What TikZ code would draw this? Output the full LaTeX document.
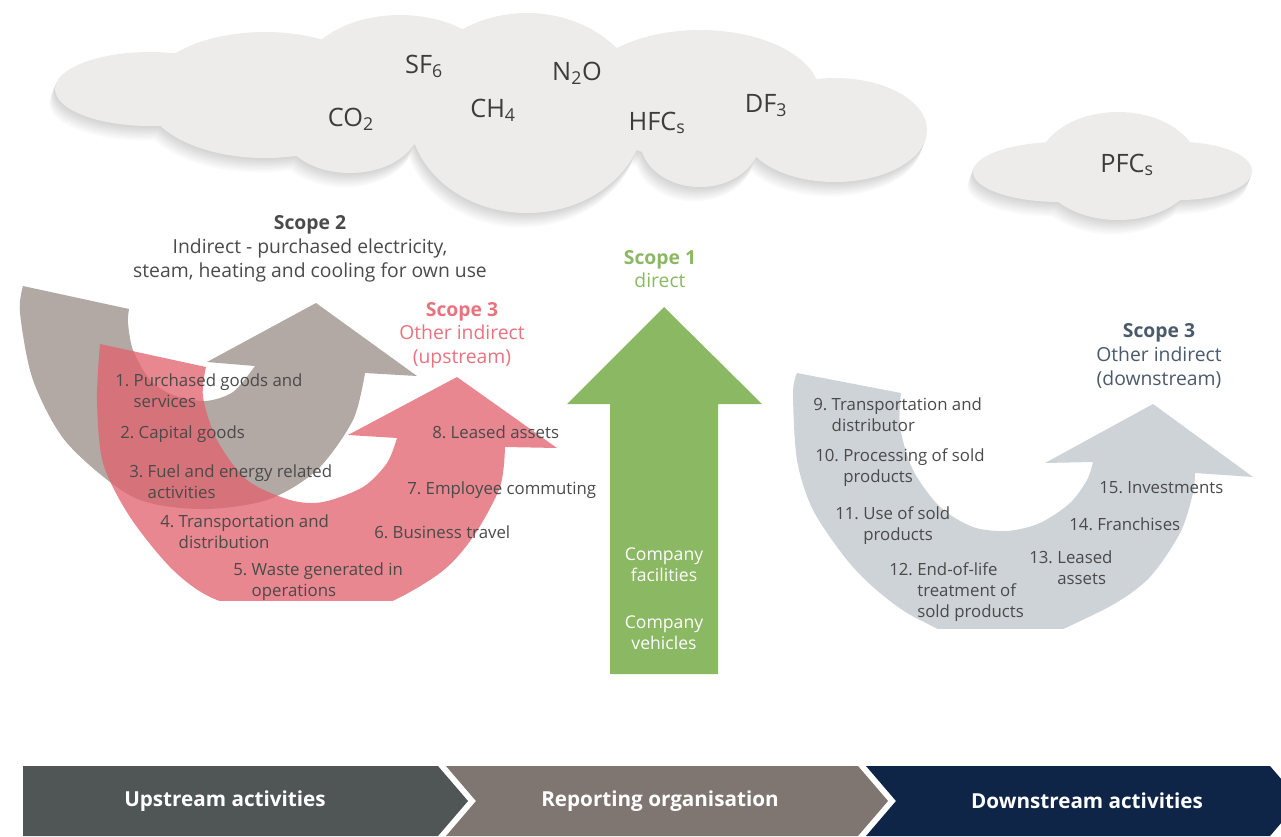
\documentclass[tikz,border=0pt]{standalone}
\usepackage{fontspec}
\setmainfont{Open Sans}
\usetikzlibrary{positioning}

\definecolor{cloudfill}{HTML}{EDECEB}
\definecolor{scopetwo}{HTML}{B2A8A4}
\definecolor{scopethree}{HTML}{E1656F}
\definecolor{scopeone}{HTML}{8BB862}
\definecolor{downfill}{HTML}{CED3D8}
\definecolor{txtgray}{HTML}{4A4A4A}
\definecolor{gasgray}{HTML}{3C3C3C}
\definecolor{pinktxt}{HTML}{E8737E}
\definecolor{slatetxt}{HTML}{4B5A6A}
\definecolor{upbar}{HTML}{505556}
\definecolor{orgbar}{HTML}{7F7571}
\definecolor{downbar}{HTML}{0E2548}

\newcommand\cloudlist{150/89/95/37, 265/95/120/63, 400/80/100/65, 527/113/118/100, 350/125/70/48, 700/95/120/65, 835/130/92/52, 700/140/60/47, 1118/166/80/54, 1060/172/87/30, 1180/171/72/29}

\tikzset{
  item/.style={anchor=base west, align=left, inner sep=0pt, text=txtgray, font=\fontsize{12.6}{15.75}\selectfont},
  gas/.style={anchor=base, inner sep=0pt, text=gasgray, font=\fontsize{19}{22}\selectfont},
  heading/.style={anchor=base, align=center, inner sep=0pt},
  barlabel/.style={inner sep=0pt, text=white, font=\fontsize{15.5}{18}\selectfont\bfseries},
}

\begin{document}
\begin{tikzpicture}[x=0.75pt, y=-0.75pt]
\useasboundingbox (0,0) rectangle (1281,836);
% Draw clouds, soft shadow first
\foreach \k [evaluate=\k as \c using int(18-2*\k)] in {8,7,...,1}
  \foreach \cx/\cy/\rx/\ry in \cloudlist
    \fill[black!\c] (\cx-\k*0.7,\cy+\k*1.8) ellipse [x radius=\rx, y radius=\ry];
\foreach \cx/\cy/\rx/\ry in \cloudlist
  \fill[cloudfill] (\cx,\cy) ellipse [x radius=\rx, y radius=\ry];
% Gases
\node[gas] (sf6) at (424,73) {SF\textsubscript{6}};
\node[gas] (n2o) at (577,80) {N\textsubscript{2}O};
\node[gas] (co2) at (351,126) {CO\textsubscript{2}};
\node[gas] (ch4) at (493,117) {CH\textsubscript{4}};
\node[gas] (hfc) at (657,130) {HFC\textsubscript{s}};
\node[gas] (df3) at (766,112) {DF\textsubscript{3}};
\node[gas] (pfc) at (1127,172) {PFC\textsubscript{s}};
% Scope 2 arrow
\fill[scopetwo] (23,286) -- (129,309)
  -- plot[smooth] coordinates {(129,309) (128,323) (133,350) (150,380) (173,395) (205,401) (233,392) (255,366)}
  -- (207,362) -- (316,303) -- (417,376) -- (365,373)
  -- plot[smooth] coordinates {(365,373) (353,420) (317,470) (267,500) (200,509) (133,497) (67,443) (33,380) (20,313) (23,286)} -- cycle;
% Scope 3 upstream arrow
\begin{scope}
  \clip (0,0) rectangle (1281,600);
  \fill[scopethree, opacity=0.78] (100,344) -- (206,367)
    -- plot[smooth] coordinates {(206,367) (203,397) (217,440) (247,480) (290,500) (323,502) (363,487) (387,463) (397,438)}
    -- (348,435) -- (457,377) -- (557,448) -- (505,447)
    -- plot[smooth] coordinates {(505,447) (500,487) (473,537) (440,573) (380,606) (300,620) (217,600) (173,570) (130,517) (103,463) (97,400) (100,344)} -- cycle;
\end{scope}
% Scope 1 arrow
\fill[scopeone] (664,307) -- (762,404) -- (718,404) -- (718,674) -- (610,674) -- (610,404) -- (567,404) -- cycle;
% Scope 3 downstream arrow
\begin{scope}
  \clip (0,0) rectangle (1281,628);
  \fill[downfill] (797,373) -- (901,393)
    -- plot[smooth] coordinates {(901,393) (900,427) (913,470) (940,507) (973,527) (1007,531) (1040,523) (1070,503) (1087,480) (1093,462)}
    -- (1045,463) -- (1153,404) -- (1253,477) -- (1195,473)
    -- plot[smooth] coordinates {(1195,473) (1193,493) (1180,533) (1147,580) (1097,613) (1000,650) (920,620) (880,593) (847,560) (813,510) (797,460) (793,393) (797,373)} -- cycle;
\end{scope}
% Headings (anchored at the baseline of their last line)
\node[heading, text=txtgray, font=\fontsize{14.5}{18}\selectfont] (sctwo) at (310,277)
  {\textbf{Scope 2}\\Indirect - purchased electricity,\\steam, heating and cooling for own use};
\node[heading, text=pinktxt, font=\fontsize{14.5}{17.6}\selectfont] (scthreeup) at (462,363)
  {\textbf{Scope 3}\\Other indirect\\(upstream)};
\node[heading, text=scopeone, font=\fontsize{14.5}{17.25}\selectfont] (scone) at (660,287)
  {\textbf{Scope 1}\\direct};
\node[heading, text=slatetxt, font=\fontsize{14.5}{18}\selectfont] (scthreedown) at (1159,385)
  {\textbf{Scope 3}\\Other indirect\\(downstream)};
\node[heading, text=white, font=\fontsize{13.2}{15.75}\selectfont] (facil) at (664,581) {Company\\facilities};
\node[heading, text=white, font=\fontsize{13.2}{15.75}\selectfont] (vehic) at (664,649) {Company\\vehicles};
% Upstream items
\foreach \nm/\px/\py/\txt in {
  itA/115/407/{1.~Purchased goods and\\\phantom{1.~}services},
  itB/120/438/{2.~Capital goods},
  itC/129/498/{3.~Fuel and energy related\\\phantom{3.~}activities},
  itD/160/548/{4.~Transportation and\\\phantom{4.~}distribution},
  itE/233/596/{5.~Waste generated in\\\phantom{5.~}operations},
  itF/374/538/{6.~Business travel},
  itG/407/494/{7.~Employee commuting},
  itH/432/438/{8.~Leased assets}}
  \node[item] (\nm) at (\px,\py) {\txt};
% Downstream items
\foreach \nm/\px/\py/\txt in {
  itI/813/431/{9.~Transportation and\\\phantom{9.~}distributor},
  itJ/815/482/{10.~Processing of sold\\\phantom{10.~}products},
  itK/835/540/{11.~Use of sold\\\phantom{11.~}products},
  itL/889/617/{12.~End-of-life\\\phantom{12.~}treatment of\\\phantom{12.~}sold products},
  itM/1029/584/{13.~Leased\\\phantom{13.~}assets},
  itN/1069/530/{14.~Franchises},
  itO/1099/493/{15.~Investments}}
  \node[item] (\nm) at (\px,\py) {\txt};
% Bottom bar
\foreach \nm/\xa/\xb/\nt/\lx/\col/\txt in {
  up/23/438/0/225/upbar/Upstream activities,
  org/446/858/30/660/orgbar/Reporting organisation,
  down/866/1270/30/1087/downbar/Downstream activities} {
  \fill[\col] (\xa,766) -- (\xb,766) -- (\xb+30,801) -- (\xb,836) -- (\xa,836) -- (\xa+\nt,801) -- cycle;
  \node[barlabel] (\nm) at (\lx,801) {\txt};
}
\end{tikzpicture}
\end{document}
